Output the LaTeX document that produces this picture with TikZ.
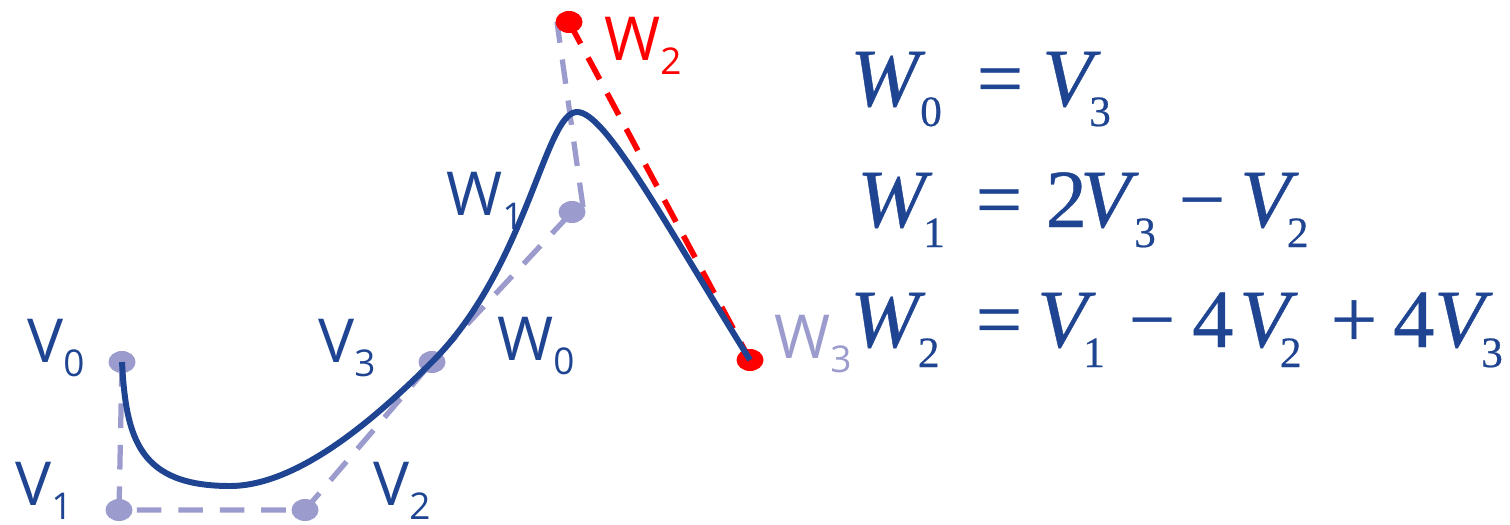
\documentclass[tikz,border=0pt]{standalone}
\usepackage{fontspec}
\usetikzlibrary{shapes.geometric}
\newfontfamily\labfont{Open Sans}
\newfontfamily\eqfont{Liberation Serif}[FakeBold=0.5]
\definecolor{dblue}{RGB}{31,68,145}
\definecolor{lav}{RGB}{155,155,205}
\definecolor{myred}{RGB}{255,0,0}
\newlength\px \setlength\px{0.02cm}
\newcommand\lsub[1]{\raisebox{-14\px}{\fontsize{21pt}{21pt}\selectfont #1}}
\newcommand\esub[1]{\raisebox{-20\px}{\fontsize{24.6pt}{24.6pt}\selectfont\upshape #1}}
\newcommand\pc[2]{\rlap{\hspace*{#1\px}#2}}
\newcommand\iW{{\itshape W}}
\newcommand\iV{{\itshape V}}
\begin{document}
\begin{tikzpicture}[x=0.02cm,y=-0.02cm,
  lbl/.style={anchor=base west, inner sep=0pt, font=\labfont\fontsize{34.5pt}{34.5pt}\selectfont},
  eqn/.style={anchor=base west, inner sep=0pt, text=dblue, font=\eqfont\fontsize{47pt}{47pt}\selectfont},
  ptdot/.style={ellipse, fill=#1, minimum width=27\px, minimum height=22\px, inner sep=0pt},
  ctrl/.style={draw=lav, line width=3pt, dash pattern=on 14pt off 9.6pt},
  reddash/.style={draw=myred, line width=3.2pt, dash pattern=on 14pt off 9pt},
  curve/.style={draw=dblue, line width=3.4pt}]
\useasboundingbox (0,0) rectangle (1510,524);
% control points
\coordinate (v0) at (122,362);
\coordinate (v1) at (119,510);
\coordinate (v2) at (305,510);
\coordinate (v3) at (432,362);
\coordinate (w1) at (572,212);
\coordinate (w1a) at (583,207);
\coordinate (w1b) at (557,22);
\coordinate (w2) at (569,22);
\coordinate (w3) at (750,360);
\coordinate (bottom) at (230,486);
\coordinate (peak) at (577,112);
% control polygons
\draw[ctrl] (v0) -- (v1) -- (v2) -- (v3) -- (w1);
\draw[ctrl] (w1a) -- (w1b);
\draw[reddash] (w2) -- (w3);
% dots
\node[ptdot=lav] (V0) at (v0) {};
\node[ptdot=lav] (V1) at (v1) {};
\node[ptdot=lav] (V2) at (v2) {};
\node[ptdot=lav] (V3) at (v3) {};
\node[ptdot=lav] (W1) at (w1) {};
\node[ptdot=myred] (W2) at (w2) {};
\node[ptdot=myred] (W3) at (w3) {};
% curve
\draw[curve] (V0.center) .. controls (126,440) and (140,486) .. (bottom)
  .. controls (300,486) and (380,414) .. (V3.center)
  .. controls (527,267) and (545,112) .. (peak)
  .. controls (605,112) and (660,215) .. (W3.center);
% labels
\node[lbl, text=dblue] (lV0) at (27,362) {V\lsub{0}};
\node[lbl, text=dblue] (lV1) at (15,505) {V\lsub{1}};
\node[lbl, text=dblue] (lV2) at (373,505) {V\lsub{2}};
\node[lbl, text=dblue] (lV3) at (318,362) {V\lsub{3}};
\node[lbl, text=dblue] (lW0) at (497,360) {W\lsub{0}};
\node[lbl, text=dblue] (lW1) at (446,215) {W\lsub{1}};
\node[lbl, text=myred] (lW2) at (604,60) {W\lsub{2}};
\node[lbl, text=lav] (lW3) at (774,358) {W\lsub{3}};
% equations
\node[eqn] (eq1) at (849,106) {\pc{0}{\iW}\pc{70}{\esub{0}}\pc{126.5}{=}\pc{192}{\iV}\pc{239}{\esub{3}}};
\node[eqn] (eq2) at (856,227) {\pc{0}{\iW}\pc{66}{\esub{1}}\pc{118.5}{=}\pc{188.5}{2}\pc{223}{\iV}\pc{277}{\esub{3}}\pc{321.5}{−}\pc{383}{\iV}\pc{429.7}{\esub{2}}};
\node[eqn] (eq3) at (849,347) {\pc{0}{\iW}\pc{67.7}{\esub{2}}\pc{125.5}{=}\pc{187}{\iV}\pc{233}{\esub{1}}\pc{278.5}{−}\pc{342}{4}\pc{389}{\iV}\pc{429.7}{\esub{2}}\pc{480.5}{+}\pc{543}{4}\pc{584}{\iV}\pc{631}{\esub{3}}};
\end{tikzpicture}
\end{document}
